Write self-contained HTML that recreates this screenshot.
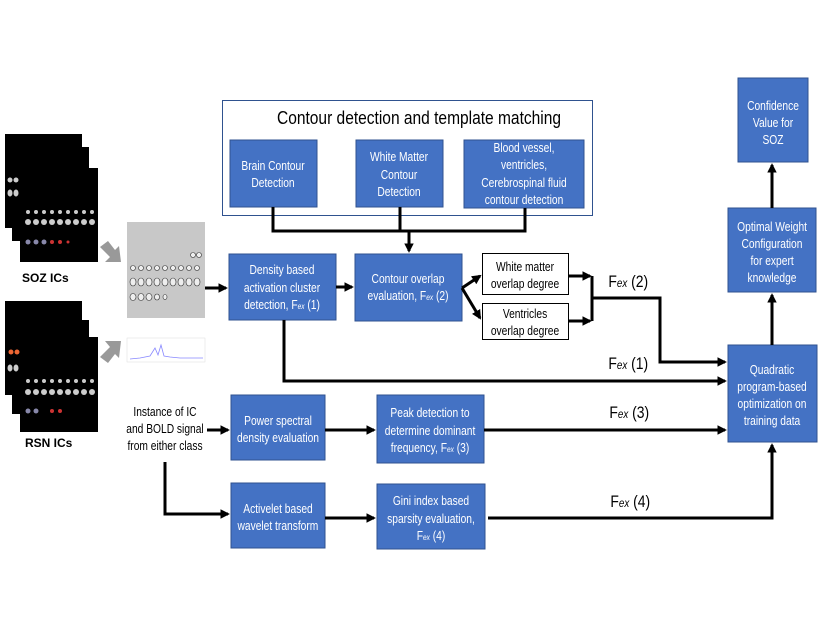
<!DOCTYPE html>
<html><head><meta charset="utf-8"><style>
html,body{margin:0;padding:0;background:#fff;}
svg{display:block;font-family:"Liberation Sans",sans-serif;}
.b{fill:#4472c4;stroke:#2f528f;stroke-width:1}
.t,.k,.f{transform-box:fill-box;transform-origin:center;transform:scaleX(0.82)}
.t{fill:#fff;font-size:12.5px;text-anchor:middle}
.k{fill:#000;font-size:12.5px;text-anchor:middle}
.f{font-size:17px}
.l{stroke:#000;stroke-width:3;fill:none}
</style></head><body>
<svg width="830" height="643" viewBox="0 0 830 643">
<defs><marker id="a" viewBox="0 0 10 10" refX="8" refY="5" markerWidth="3.2" markerHeight="3.2" orient="auto"><path d="M0,0L10,5L0,10z" fill="#000"/></marker></defs>

<g>
<rect x="5" y="134" width="77" height="94" fill="#000"/>
<rect x="12" y="147" width="77" height="94" fill="#000"/>
<rect x="20" y="168" width="78" height="94" fill="#000"/>
<g fill="#ccc"><circle cx="28" cy="222" r="3"/><circle cx="36" cy="222" r="3"/><circle cx="44" cy="222" r="3"/><circle cx="52" cy="222" r="3"/><circle cx="60" cy="222" r="3"/><circle cx="68" cy="222" r="3"/><circle cx="76" cy="222" r="3"/><circle cx="84" cy="222" r="3"/><circle cx="92" cy="222" r="3"/>
<circle cx="28" cy="212" r="2"/><circle cx="36" cy="212" r="2"/><circle cx="44" cy="212" r="2"/><circle cx="52" cy="212" r="2"/><circle cx="60" cy="212" r="2"/><circle cx="68" cy="212" r="2"/><circle cx="76" cy="212" r="2"/><circle cx="84" cy="212" r="2"/><circle cx="92" cy="212" r="2"/>
<circle cx="10" cy="180" r="2.5"/><circle cx="16" cy="180" r="2.5"/><ellipse cx="10" cy="193" rx="2.5" ry="3.5"/><ellipse cx="16" cy="193" rx="2.5" ry="3.5"/></g>
<g fill="#88a"><circle cx="28" cy="242" r="2.5"/><circle cx="36" cy="242" r="2.5"/><circle cx="44" cy="242" r="2.5"/></g>
<g fill="#c33"><circle cx="52" cy="242" r="2"/><circle cx="60" cy="242" r="2"/><circle cx="68" cy="242" r="1.5"/></g>
</g>
<text x="22" y="282" font-size="12" font-weight="bold">SOZ ICs</text>
<g>
<rect x="5" y="301" width="77" height="94" fill="#000"/>
<rect x="12" y="320" width="77" height="94" fill="#000"/>
<rect x="20" y="337" width="78" height="95" fill="#000"/>
<g fill="#ccc"><circle cx="28" cy="392" r="3"/><circle cx="36" cy="392" r="3"/><circle cx="44" cy="392" r="3"/><circle cx="52" cy="392" r="3"/><circle cx="60" cy="392" r="3"/><circle cx="68" cy="392" r="3"/><circle cx="76" cy="392" r="3"/><circle cx="84" cy="392" r="3"/><circle cx="92" cy="392" r="3"/>
<circle cx="28" cy="381" r="2"/><circle cx="36" cy="381" r="2"/><circle cx="44" cy="381" r="2"/><circle cx="52" cy="381" r="2"/><circle cx="60" cy="381" r="2"/><circle cx="68" cy="381" r="2"/><circle cx="76" cy="381" r="2"/><circle cx="84" cy="381" r="2"/><circle cx="92" cy="381" r="2"/>
<ellipse cx="10" cy="368" rx="2.5" ry="3.5"/><ellipse cx="16" cy="368" rx="2.5" ry="3.5"/></g>
<g fill="#e63"><circle cx="11" cy="352" r="2.5"/><circle cx="17" cy="352" r="2.5"/></g>
<g fill="#88a"><circle cx="28" cy="411" r="2.5"/><circle cx="36" cy="411" r="2.5"/></g>
<g fill="#c33"><circle cx="52" cy="411" r="2"/><circle cx="60" cy="411" r="2"/></g>
</g>
<text x="25" y="447" font-size="12" font-weight="bold">RSN ICs</text>
<polygon points="100,247 108,241 115,250 119,246 121,262 105,262 110,257" fill="#999"/>
<polygon points="100,357 108,363 115,354 119,358 121,341 105,341 110,347" fill="#999"/>
<rect x="127" y="222" width="78" height="96" fill="#c8c8c8"/>
<g fill="#eee" stroke="#333" stroke-width="0.6">
<circle cx="133" cy="268" r="2.5"/><circle cx="141" cy="268" r="2.5"/><circle cx="149" cy="268" r="2.5"/><circle cx="157" cy="268" r="2.5"/><circle cx="165" cy="268" r="2.5"/><circle cx="173" cy="268" r="2.5"/><circle cx="181" cy="268" r="2.5"/><circle cx="189" cy="268" r="2.5"/><circle cx="197" cy="268" r="2.5"/>
<ellipse cx="133" cy="282" rx="3" ry="4"/><ellipse cx="141" cy="282" rx="3" ry="4"/><ellipse cx="149" cy="282" rx="3" ry="4"/><ellipse cx="157" cy="282" rx="3" ry="4"/><ellipse cx="165" cy="282" rx="3" ry="4"/><ellipse cx="173" cy="282" rx="3" ry="4"/><ellipse cx="181" cy="282" rx="3" ry="4"/><ellipse cx="189" cy="282" rx="3" ry="4"/><ellipse cx="197" cy="282" rx="3" ry="4"/>
<ellipse cx="133" cy="297" rx="3" ry="3.5"/><ellipse cx="141" cy="297" rx="3" ry="3.5"/><ellipse cx="149" cy="297" rx="3" ry="3.5"/><ellipse cx="157" cy="297" rx="2.5" ry="3"/><ellipse cx="165" cy="297" rx="2" ry="2.5"/>
<circle cx="193" cy="255" r="2.5"/><circle cx="199" cy="255" r="2.5"/></g>
<rect x="127" y="338" width="78" height="24" fill="#fff" stroke="#ddd" stroke-width="0.5"/>
<polyline points="130,359 140,358 150,356 155,348 158,355 161,345 164,356 170,357 180,358 190,358 203,358" stroke="#88f" stroke-width="0.8" fill="none"/>

<rect x="222.5" y="100.5" width="370" height="115" fill="#fff" stroke="#2f528f" stroke-width="1"/>
<text x="419" y="124" font-size="18" text-anchor="middle" textLength="284" lengthAdjust="spacingAndGlyphs">Contour detection and template matching</text>
<rect class="b" x="230" y="140" width="87" height="67"/>
<text class="t" x="273" y="170">Brain Contour</text><text class="t" x="273" y="187">Detection</text>
<rect class="b" x="356" y="140" width="87" height="67"/>
<text class="t" x="399" y="161">White Matter</text><text class="t" x="399" y="179">Contour</text><text class="t" x="399" y="196">Detection</text>
<rect class="b" x="464" y="140" width="120" height="68"/>
<text class="t" x="524" y="152">Blood vessel,</text><text class="t" x="524" y="169">ventricles,</text><text class="t" x="524" y="187">Cerebrospinal fluid</text><text class="t" x="524" y="204">contour detection</text>

<path class="l" d="M273,207V231H525V208M400,207V231"/>
<path class="l" d="M409,231V251" marker-end="url(#a)"/>

<rect class="b" x="229" y="254" width="107" height="66"/>
<text class="t" x="282" y="274">Density based</text><text class="t" x="282" y="292">activation cluster</text><text class="t" x="282" y="309">detection, F<tspan font-size="8" font-style="italic">ex</tspan> (1)</text>
<rect class="b" x="355" y="254" width="107" height="67"/>
<text class="t" x="408" y="283">Contour overlap</text><text class="t" x="408" y="300">evaluation, F<tspan font-size="8" font-style="italic">ex</tspan> (2)</text>
<rect x="482.5" y="253.5" width="86" height="41" fill="#fff" stroke="#000"/>
<text class="k" x="525" y="271">White matter</text><text class="k" x="525" y="288">overlap degree</text>
<rect x="482.5" y="303.5" width="86" height="36" fill="#fff" stroke="#000"/>
<text class="k" x="525" y="318">Ventricles</text><text class="k" x="525" y="335">overlap degree</text>

<path class="l" d="M205,288H213V288H226" marker-end="url(#a)"/>
<path class="l" d="M336,287H352" marker-end="url(#a)"/>
<path class="l" d="M462,288L480,276" marker-end="url(#a)"/>
<path class="l" d="M462,288L480,318" marker-end="url(#a)"/>
<path class="l" d="M568,276H590" marker-end="url(#a)"/>
<path class="l" d="M568,321H590" marker-end="url(#a)"/>
<path class="l" d="M592,276V321"/>
<path class="l" d="M592,298H660V362H725" marker-end="url(#a)"/>
<path class="l" d="M284,320V381H725" marker-end="url(#a)"/>

<text class="f" x="604" y="287">F<tspan font-size="12" font-style="italic">ex</tspan> (2)</text>
<text class="f" x="604" y="369">F<tspan font-size="12" font-style="italic">ex</tspan> (1)</text>
<text class="f" x="605" y="418">F<tspan font-size="12" font-style="italic">ex</tspan> (3)</text>
<text class="f" x="606" y="507">F<tspan font-size="12" font-style="italic">ex</tspan> (4)</text>

<rect class="b" x="728" y="345" width="89" height="97"/>
<text class="t" x="772" y="374">Quadratic</text><text class="t" x="772" y="391">program-based</text><text class="t" x="772" y="408">optimization on</text><text class="t" x="772" y="425">training data</text>
<rect class="b" x="728" y="208" width="88" height="84"/>
<text class="t" x="772" y="231">Optimal Weight</text><text class="t" x="772" y="248">Configuration</text><text class="t" x="772" y="265">for expert</text><text class="t" x="772" y="282">knowledge</text>
<rect class="b" x="738" y="78" width="70" height="84"/>
<text class="t" x="773" y="110">Confidence</text><text class="t" x="773" y="127">Value for</text><text class="t" x="773" y="144">SOZ</text>
<path class="l" d="M772,345V295" marker-end="url(#a)"/>
<path class="l" d="M772,208V165" marker-end="url(#a)"/>

<text class="k" x="165" y="416">Instance of IC</text><text class="k" x="165" y="433">and BOLD signal</text><text class="k" x="165" y="450">from either class</text>
<path class="l" d="M207,430H228" marker-end="url(#a)"/>
<path class="l" d="M165,462V514H228" marker-end="url(#a)"/>

<rect class="b" x="231" y="395" width="94" height="65"/>
<text class="t" x="278" y="425">Power spectral</text><text class="t" x="278" y="442">density evaluation</text>
<rect class="b" x="377" y="395" width="107" height="68"/>
<text class="t" x="430" y="417">Peak detection to</text><text class="t" x="430" y="435">determine dominant</text><text class="t" x="430" y="452">frequency, F<tspan font-size="8" font-style="italic">ex</tspan> (3)</text>
<path class="l" d="M325,430H374" marker-end="url(#a)"/>
<path class="l" d="M484,430H725" marker-end="url(#a)"/>

<rect class="b" x="231" y="483" width="94" height="65"/>
<text class="t" x="278" y="513">Activelet based</text><text class="t" x="278" y="530">wavelet transform</text>
<rect class="b" x="377" y="484" width="108" height="65"/>
<text class="t" x="431" y="505">Gini index based</text><text class="t" x="431" y="523">sparsity evaluation,</text><text class="t" x="431" y="540">F<tspan font-size="8" font-style="italic">ex</tspan> (4)</text>
<path class="l" d="M325,518H374" marker-end="url(#a)"/>
<path class="l" d="M488,518H772V445" marker-end="url(#a)"/>
</svg>
</body></html>
